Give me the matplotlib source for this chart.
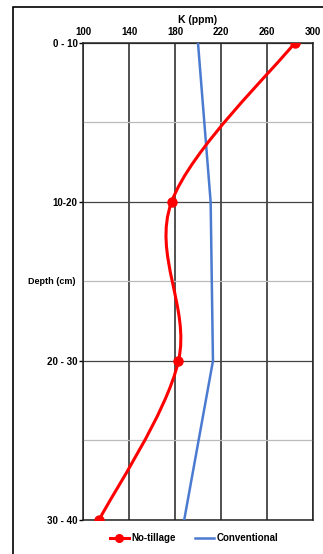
import matplotlib.pyplot as plt
from matplotlib.path import Path
from matplotlib.patches import PathPatch, Rectangle
from matplotlib.lines import Line2D

plt.rcParams['font.family'] = ['Liberation Sans', 'DejaVu Sans']
plt.rcParams['font.weight'] = 'bold'

# data
depths = ['0 - 10', '10-20', '20 - 30', '30 - 40']
no_tillage = [284, 177, 183, 114]
conventional = [200, 211, 213, 188]
x_ticks = [100, 140, 180, 220, 260, 300]

red = '#ff0000'
blue = '#4a7bd0'

fig = plt.figure(figsize=(3.23, 5.54), dpi=100)
ax = fig.add_axes([0.257, 0.0614, 0.712, 0.861])

ypos = list(range(len(depths)))

# smoothed line (Catmull-Rom -> Bezier) like Excel's smoothed series
pts = list(zip(no_tillage, ypos))
verts = [pts[0]]
codes = [Path.MOVETO]
for i in range(len(pts) - 1):
    p0 = pts[i - 1] if i > 0 else pts[i]
    p1 = pts[i]
    p2 = pts[i + 1]
    p3 = pts[i + 2] if i + 2 < len(pts) else pts[i + 1]
    c1 = (p1[0] + (p2[0] - p0[0]) / 6, p1[1] + (p2[1] - p0[1]) / 6)
    c2 = (p2[0] - (p3[0] - p1[0]) / 6, p2[1] - (p3[1] - p1[1]) / 6)
    verts += [c1, c2, p2]
    codes += [Path.CURVE4] * 3
ax.add_patch(PathPatch(Path(verts, codes), facecolor='none', edgecolor=red,
                       lw=2.2, zorder=4))
ax.plot(no_tillage, ypos, 'o', color=red, ms=6.5, zorder=5)
ax.plot(conventional, ypos, color=blue, lw=1.8, zorder=3)

ax.set_xlim(100, 300)
ax.set_ylim(3, 0)
ax.xaxis.tick_top()
ax.xaxis.set_label_position('top')
ax.set_xticks(x_ticks)
ax.set_xticklabels([str(v) for v in x_ticks], fontsize=7, fontweight='bold')
ax.set_xlabel('K (ppm)', fontsize=7.5, fontweight='bold', labelpad=3)
ax.tick_params(axis='x', length=0, pad=4)

ax.set_yticks(ypos)
ax.set_yticklabels(depths, fontsize=7, fontweight='bold')
ax.tick_params(axis='y', length=3, width=1, pad=1)
ax.set_yticks([0.5, 1.5, 2.5], minor=True)
ax.tick_params(axis='y', which='minor', length=0)

ax.grid(axis='x', color='#222222', lw=1.1)
ax.grid(axis='y', which='major', color='#444444', lw=0.9)
ax.grid(axis='y', which='minor', color='#bbbbbb', lw=0.9)
ax.set_axisbelow(True)
for s in ax.spines.values():
    s.set_color('#222222')
    s.set_linewidth(1.1)

fig.text(0.235, 1 - 282 / 554, 'Depth (cm)', fontsize=6.5, fontweight='bold',
         ha='right', va='center')

handles = [Line2D([], [], color=red, lw=2.2, marker='o', ms=5.5),
           Line2D([], [], color=blue, lw=1.8)]
fig.legend(handles, ['No-tillage', 'Conventional'], loc='center',
           bbox_to_anchor=(0.6, 1 - 538 / 554), ncol=2, frameon=False,
           prop={'size': 7, 'weight': 'bold'}, handlelength=2.0,
           handletextpad=0.2, columnspacing=2)

fig.patches.append(Rectangle((13 / 323, -0.1), 1.2, 1 - 7 / 554 + 0.1,
                             transform=fig.transFigure, fill=False,
                             edgecolor='black', lw=1.2))

fig.savefig('out.png', dpi=100)
